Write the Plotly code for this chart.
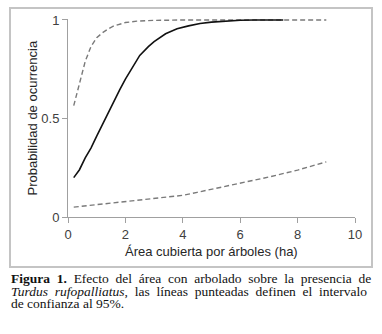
import plotly.graph_objects as go

# ---- data ----
x_fit = [0.2, 0.4, 0.6, 0.8, 1.0, 1.2, 1.4, 1.6, 1.8, 2.0, 2.2, 2.5, 2.8, 3.0,
         3.4, 3.8, 4.2, 4.6, 5.0, 5.5, 6.0, 6.5, 7.0, 7.5]
y_fit = [0.20, 0.24, 0.30, 0.35, 0.41, 0.47, 0.53, 0.59, 0.645, 0.70, 0.75, 0.82,
         0.865, 0.89, 0.93, 0.955, 0.97, 0.982, 0.989, 0.995, 0.999, 1.0, 1.0, 1.0]

x_upper = [0.2, 0.4, 0.6, 0.8, 1.0, 1.2, 1.4, 1.6, 1.8, 2.0, 2.4, 3.0, 4.0, 5.0, 6.0, 7.0, 8.0, 9.0]
y_upper = [0.565, 0.68, 0.79, 0.865, 0.91, 0.935, 0.955, 0.97, 0.98, 0.987, 0.994, 0.998,
           1.0, 1.0, 1.0, 1.0, 1.0, 1.0]

x_lower = [0.2, 1.0, 2.0, 3.0, 4.0, 4.5, 5.0, 6.0, 7.0, 8.0, 9.0]
y_lower = [0.05, 0.062, 0.08, 0.095, 0.11, 0.125, 0.14, 0.17, 0.203, 0.238, 0.28]

x_ticks = [0, 2, 4, 6, 8, 10]
y_ticks = [0, 0.5, 1]
y_ticktext = ["0", "0.5", "1"]

x_title = "Área cubierta por árboles (ha)"
y_title = "Probabilidad de ocurrencia"

# caption lines: list of (word, style) ; style: r=roman, b=bold, i=italic
caption_lines = [
    [("Figura", "b"), ("1.", "b"), ("Efecto", "r"), ("del", "r"), ("área", "r"), ("con", "r"),
     ("arbolado", "r"), ("sobre", "r"), ("la", "r"), ("presencia", "r"), ("de", "r")],
    [("Turdus", "i"), ("rufopalliatus", "i"), (",", "r"), ("las", "r"), ("líneas", "r"),
     ("punteadas", "r"), ("definen", "r"), ("el", "r"), ("intervalo", "r")],
    [("de", "r"), ("confianza", "r"), ("al", "r"), ("95%.", "r")],
]

fig = go.Figure()
fig.add_trace(go.Scatter(x=x_upper, y=y_upper, mode="lines",
                         line=dict(color="#7a7a7a", width=1.4, dash="5px,3px"), hoverinfo="skip"))
fig.add_trace(go.Scatter(x=x_lower, y=y_lower, mode="lines",
                         line=dict(color="#7a7a7a", width=1.4, dash="5px,3px"), hoverinfo="skip"))
fig.add_trace(go.Scatter(x=x_fit, y=y_fit, mode="lines",
                         line=dict(color="#111111", width=1.6), hoverinfo="skip"))

W, H = 382, 334
L, T = 68, 19
R = W - 355
B = H - 217
pw = W - L - R
ph = H - T - B


def px(xp):
    return (xp - L) / pw


def py(yp):
    return (H - B - yp) / ph


axis_font = dict(family="Liberation Sans, Arial", size=13, color="#404040")

fig.update_layout(
    width=W, height=H,
    margin=dict(l=L, r=R, t=T, b=B),
    paper_bgcolor="white", plot_bgcolor="white",
    showlegend=False,
    xaxis=dict(range=[0, 10], tickvals=x_ticks, showgrid=False, zeroline=False,
               showline=True, linecolor="#a0a0a0", linewidth=1,
               ticks="outside", ticklen=5, tickcolor="#a0a0a0", tickfont=axis_font),
    yaxis=dict(range=[0, 1.005], tickvals=y_ticks, ticktext=y_ticktext, showgrid=False,
               zeroline=False, showline=True, linecolor="#a0a0a0", linewidth=1,
               ticks="outside", ticklen=5, tickcolor="#a0a0a0", tickfont=axis_font),
)

# outer frame
fig.add_shape(type="rect", xref="paper", yref="paper",
              x0=px(10), x1=px(372), y0=py(267), y1=py(8),
              line=dict(color="#c4c4c4", width=2), fillcolor="rgba(0,0,0,0)", layer="below")

ann = []
ann.append(dict(text=x_title, x=0.5, y=py(251), xref="paper", yref="paper",
                showarrow=False, xanchor="center", yanchor="middle",
                font=dict(family="Liberation Sans, Arial", size=13, color="#262626")))
ann.append(dict(text=y_title, x=px(32), y=py(118.5), xref="paper", yref="paper",
                showarrow=False, xanchor="center", yanchor="middle", textangle=-90,
                font=dict(family="Liberation Sans, Arial", size=13, color="#262626")))

# Times metrics (per 1000 em) to justify the caption like the reference
ROMAN = dict(a=444, b=500, c=444, d=500, e=444, f=333, g=500, i=278, l=278, n=500, o=500,
             p=500, r=333, s=389, t=278, u=500, v=500, z=444, E=611, F=556, T=611)
ROMAN.update({"á": 444, "í": 278, ".": 250, ",": 250, "1": 500, "9": 500, "5": 500,
              "%": 833, " ": 250})
BOLD = dict(F=611, i=278, g=500, u=556, r=444, a=500)
BOLD.update({"1": 500, ".": 250})
ITAL = dict(T=556, u=500, r=389, d=500, s=389, f=278, o=500, p=500, a=500, l=278, i=278, t=278)
TABLES = dict(r=ROMAN, b=BOLD, i=ITAL)

FS = 13.5
SPACE = 250 * FS / 1000.0
cap_font = dict(family="Liberation Serif, Times New Roman", size=FS, color="#111111")


def wwidth(word, style):
    tab = TABLES[style]
    return sum(tab.get(ch, 500) for ch in word) * FS / 1000.0


def styled(word, style):
    if style == "b":
        return "<b>" + word + "</b>"
    if style == "i":
        return "<i>" + word + "</i>"
    return word


X_START, X_END = 10, 376
line_y = [278, 291, 303]
NBSP = "\u00a0"
for li, words in enumerate(caption_lines):
    yc = line_y[li]
    justify = li < len(caption_lines) - 1
    groups = []
    for w, s in words:
        if w == "," and groups:
            groups[-1].append((w, s))
        else:
            groups.append([(w, s)])
    widths = [sum(wwidth(w, s) for w, s in g) for g in groups]
    nsp = 1
    if justify and len(groups) > 1:
        gap = (X_END - X_START - sum(widths)) / (len(groups) - 1)
        nsp = max(1, int(round(gap / SPACE)))
    sep = NBSP * nsp
    txt = sep.join("".join(styled(w, s) for w, s in g) for g in groups)
    ann.append(dict(text=txt, x=px(X_START), y=py(yc), xref="paper", yref="paper",
                    showarrow=False, xanchor="left", yanchor="middle", font=cap_font,
                    borderpad=0))

fig.update_layout(annotations=ann)
fig.write_html("out.html", config={"displayModeBar": False},
               post_script="document.body.style.margin='0';document.body.style.overflow='hidden';")
